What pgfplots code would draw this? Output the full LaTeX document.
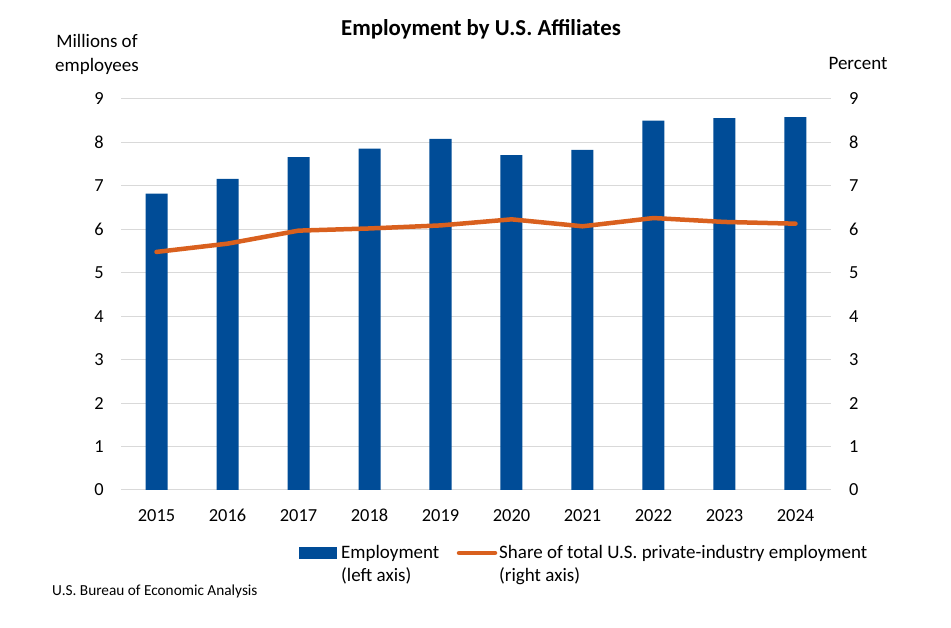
\documentclass[border=0pt]{standalone}
\usepackage{pgfplots}
\pgfplotsset{compat=1.18}
\usepackage{fontspec}
\setmainfont{Carlito}

\definecolor{empblue}{HTML}{004C97}
\definecolor{shareorange}{HTML}{D9601E}
\definecolor{gridgray}{HTML}{D9D9D9}

% Employment by U.S. affiliates, millions of employees
\pgfplotstableread{
idx year emp
0 2015 6.82
1 2016 7.16
2 2017 7.66
3 2018 7.86
4 2019 8.08
5 2020 7.71
6 2021 7.83
7 2022 8.50
8 2023 8.56
9 2024 8.58
}\emptable

% Share of total U.S. private-industry employment, percent
\pgfplotstableread{
idx year share
0 2015 5.48
1 2016 5.67
2 2017 5.97
3 2018 6.02
4 2019 6.09
5 2020 6.23
6 2021 6.07
7 2022 6.26
8 2023 6.17
9 2024 6.13
}\sharetable

\begin{document}
\fontsize{18.4}{22}\selectfont
\begin{tikzpicture}[x=1pt,y=1pt]
\path[use as bounding box] (0,0) rectangle (951,628);

\pgfplotsset{
  common/.style={
    at={(121pt,138pt)}, anchor=south west,
    scale only axis, width=710pt, height=391pt,
    xmin=-0.5, xmax=9.5, ymin=0, ymax=9,
    ytick={0,1,...,9},
    xtick={0,1,...,9},
    major tick length=0pt,
    axis line style={draw=none},
    /pgf/number format/assume math mode=true,
    ticklabel style={font=\fontsize{18.4}{22}\selectfont, inner sep=0pt},
  }
}

\begin{axis}[common,
  xticklabels={2015,2016,2017,2018,2019,2020,2021,2022,2023,2024},
  xticklabel style={yshift=-19pt},
  yticklabel style={xshift=-17pt},
  ymajorgrids, grid style={gridgray, line width=1pt},
]
\addplot[ybar, bar width=22pt, fill=empblue, draw=none]
  table[x=idx, y=emp] {\emptable};
\end{axis}

\begin{axis}[common,
  axis y line*=right, axis x line=none,
  yticklabel style={xshift=18pt},
  xticklabels={},
]
\addplot[shareorange, line width=4.5pt, line join=round, line cap=round]
  table[x=idx, y=share] {\sharetable};
\end{axis}

% Title and axis captions
\node[font=\fontsize{22.8}{27}\selectfont\bfseries] at (481,599) {Employment by U.S. Affiliates};
\node[align=center, font=\fontsize{19}{24}\selectfont] at (97,574) {Millions of\\employees};
\node[font=\fontsize{19}{23}\selectfont] at (858,565) {Percent};

% Legend
\begin{scope}[every node/.style={anchor=west, inner sep=0pt, font=\fontsize{19}{23}\selectfont}]
\fill[empblue] (299,69) rectangle (337,81);
\node at (341,75) {Employment};
\node at (341,52) {(left axis)};
\draw[shareorange, line width=4.5pt, line cap=round] (459,75) -- (495,75);
\node at (499,75) {Share of total U.S. private-industry employment};
\node at (499,52) {(right axis)};
\end{scope}

% Source
\node[anchor=west, inner sep=0pt, font=\fontsize{15.3}{18}\selectfont] at (52,37) {U.S. Bureau of Economic Analysis};
\end{tikzpicture}
\end{document}
